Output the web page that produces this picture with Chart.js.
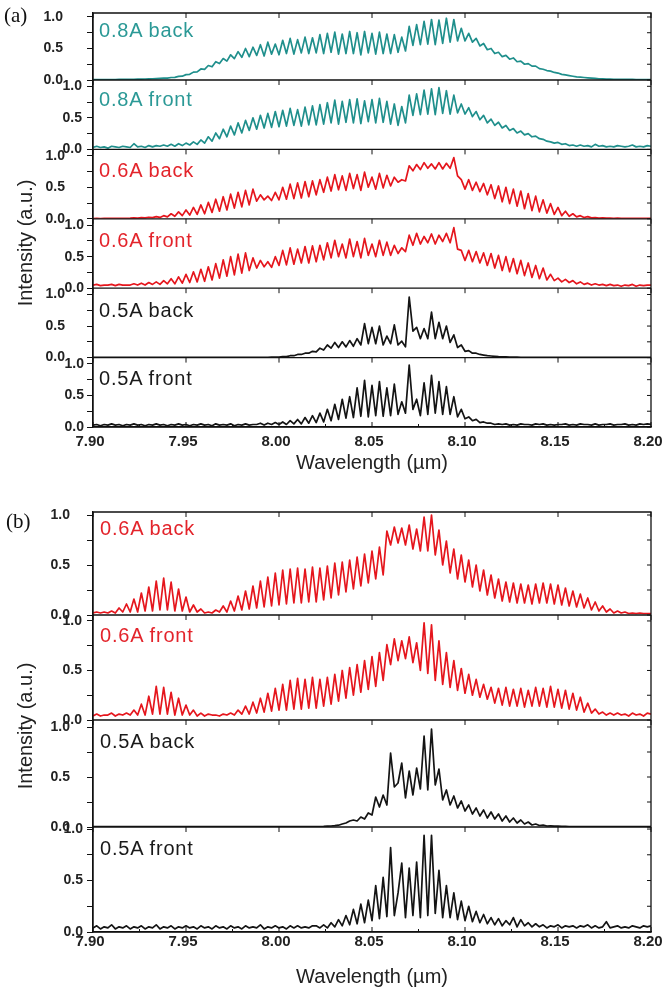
<!DOCTYPE html>
<html>
<head>
<meta charset="utf-8">
<script src="https://cdn.jsdelivr.net/npm/chart.js@4.4.1/dist/chart.umd.min.js"></script>
<style>
  body { margin: 0; background: #fff; }
  #wrap { position: relative; width: 662px; height: 995px; overflow: hidden; background: #fff; }
  canvas { position: absolute; left: 0; }
  .lbl { position: absolute; font: 20px "Liberation Sans", Arial, sans-serif; line-height: 20px; letter-spacing: 0.8px; white-space: nowrap; }
  .panel { position: absolute; font: 21px "Liberation Serif", "Times New Roman", serif; line-height: 21px; color: #111; }
  .ytitle { position: absolute; font: 20px "Liberation Sans", Arial, sans-serif; color: #222; white-space: nowrap;
            transform: translate(-50%, -50%) rotate(-90deg); }
  .teal { color: #2b9996; }
  .red { color: #e3242b; }
  .blk { color: #1a1a1a; }
</style>
</head>
<body>
<div id="wrap">
  <canvas id="chartA" width="662" height="480" style="top:0"></canvas>
  <canvas id="chartB" width="662" height="515" style="top:480px"></canvas>

  <div class="panel" style="left:4px;top:5px">(a)</div>
  <div class="panel" style="left:6px;top:511px">(b)</div>
  <div class="ytitle" style="left:25px;top:243px">Intensity (a.u.)</div>
  <div class="ytitle" style="left:25px;top:726px">Intensity (a.u.)</div>

  <div class="lbl teal" style="left:99px;top:20px">0.8A back</div>
  <div class="lbl teal" style="left:99px;top:89px">0.8A front</div>
  <div class="lbl red" style="left:99px;top:160px">0.6A back</div>
  <div class="lbl red" style="left:99px;top:230px">0.6A front</div>
  <div class="lbl blk" style="left:99px;top:300px">0.5A back</div>
  <div class="lbl blk" style="left:99px;top:368px">0.5A front</div>

  <div class="lbl red" style="left:100px;top:518px">0.6A back</div>
  <div class="lbl red" style="left:100px;top:625px">0.6A front</div>
  <div class="lbl blk" style="left:100px;top:731px">0.5A back</div>
  <div class="lbl blk" style="left:100px;top:838px">0.5A front</div>
</div>

<script>
// wavelength grid (µm): 7.900 ... 8.200, one sample every 0.002
const WL_START = 7.90;
const WL_STEP = 0.002;
const WL_COUNT = 151;
const wavelength = Array.from({ length: WL_COUNT }, (_, i) => Math.round((WL_START + i * WL_STEP) * 1000) / 1000);

const xTickValues = [7.90, 7.95, 8.00, 8.05, 8.10, 8.15, 8.20];
const yTickValues = [0, 0.25, 0.5, 0.75, 1.0];
const yLabelled = [0, 0.5, 1.0];

// ---- panel (a) ----
const a08back = [
  0.005,0.006,0.006,0.007,0.007,0.008,0.008,0.009,0.009,0.010,
  0.011,0.012,0.013,0.014,0.016,0.018,0.020,0.023,0.026,0.030,
  0.030,0.040,0.042,0.058,0.060,0.085,0.090,0.125,0.130,0.175,
  0.17,0.23,0.21,0.29,0.26,0.34,0.30,0.40,0.34,0.45,
  0.36,0.50,0.37,0.52,0.39,0.56,0.38,0.60,0.41,0.57,
  0.40,0.63,0.42,0.66,0.41,0.64,0.43,0.68,0.42,0.67,
  0.43,0.72,0.42,0.74,0.44,0.76,0.41,0.73,0.42,0.77,
  0.42,0.75,0.40,0.77,0.43,0.74,0.41,0.76,0.42,0.73,
  0.42,0.72,0.44,0.68,0.46,0.85,0.55,0.88,0.56,0.93,
  0.57,0.96,0.56,0.95,0.58,0.98,0.60,0.96,0.62,0.82,
  0.62,0.74,0.60,0.66,0.54,0.58,0.48,0.50,0.42,0.44,
  0.37,0.39,0.33,0.35,0.29,0.30,0.25,0.26,0.22,0.22,
  0.18,0.17,0.15,0.14,0.12,0.11,0.09,0.08,0.07,0.06,
  0.05,0.045,0.04,0.035,0.03,0.025,0.02,0.018,0.015,0.013,
  0.012,0.011,0.010,0.010,0.009,0.009,0.008,0.008,0.008,0.008,
  0.008
];
const a08front = [
  0.03,0.05,0.03,0.04,0.02,0.05,0.04,0.03,0.05,0.04,
  0.03,0.09,0.04,0.05,0.03,0.06,0.04,0.06,0.05,0.07,
  0.05,0.08,0.05,0.09,0.06,0.10,0.07,0.12,0.08,0.15,
  0.10,0.20,0.13,0.26,0.17,0.32,0.20,0.37,0.23,0.42,
  0.26,0.46,0.30,0.50,0.32,0.54,0.34,0.57,0.35,0.60,
  0.36,0.62,0.37,0.65,0.38,0.63,0.37,0.67,0.39,0.69,
  0.39,0.71,0.40,0.74,0.42,0.78,0.40,0.76,0.43,0.79,
  0.42,0.80,0.41,0.77,0.44,0.79,0.42,0.81,0.43,0.76,
  0.40,0.72,0.38,0.68,0.42,0.86,0.54,0.88,0.55,0.94,
  0.56,0.96,0.55,0.98,0.57,0.93,0.56,0.86,0.58,0.72,
  0.56,0.66,0.52,0.60,0.47,0.54,0.42,0.48,0.38,0.43,
  0.34,0.38,0.30,0.33,0.26,0.29,0.23,0.25,0.20,0.21,
  0.17,0.16,0.13,0.12,0.10,0.11,0.08,0.09,0.06,0.07,
  0.05,0.07,0.05,0.06,0.04,0.08,0.05,0.06,0.04,0.05,
  0.04,0.06,0.05,0.04,0.05,0.07,0.04,0.05,0.04,0.06,
  0.05
];
const a06back = [
  0.005,0.006,0.005,0.006,0.006,0.007,0.007,0.008,0.008,0.009,
  0.010,0.014,0.012,0.018,0.015,0.025,0.018,0.035,0.022,0.05,
  0.03,0.08,0.04,0.11,0.05,0.14,0.06,0.18,0.07,0.22,
  0.08,0.26,0.10,0.31,0.12,0.35,0.14,0.39,0.17,0.42,
  0.19,0.45,0.22,0.47,0.28,0.38,0.30,0.36,0.29,0.42,
  0.30,0.50,0.31,0.55,0.32,0.57,0.33,0.59,0.35,0.60,
  0.38,0.62,0.42,0.66,0.44,0.70,0.46,0.68,0.45,0.72,
  0.48,0.70,0.45,0.74,0.50,0.66,0.47,0.72,0.49,0.69,
  0.52,0.66,0.58,0.62,0.60,0.84,0.76,0.86,0.78,0.89,
  0.80,0.87,0.79,0.89,0.79,0.88,0.80,0.97,0.68,0.62,
  0.47,0.62,0.45,0.58,0.43,0.56,0.38,0.54,0.32,0.52,
  0.27,0.50,0.24,0.47,0.20,0.44,0.16,0.40,0.13,0.36,
  0.11,0.30,0.09,0.24,0.07,0.18,0.05,0.12,0.04,0.08,
  0.03,0.05,0.02,0.035,0.015,0.02,0.012,0.015,0.010,0.010,
  0.009,0.010,0.008,0.009,0.008,0.009,0.008,0.008,0.008,0.008,
  0.008
];
const a06front = [
  0.05,0.06,0.04,0.05,0.05,0.06,0.04,0.06,0.05,0.05,
  0.05,0.07,0.05,0.08,0.05,0.09,0.06,0.10,0.06,0.12,
  0.07,0.15,0.07,0.18,0.08,0.22,0.09,0.26,0.10,0.30,
  0.11,0.34,0.13,0.39,0.16,0.45,0.19,0.50,0.21,0.54,
  0.24,0.56,0.28,0.48,0.32,0.44,0.34,0.42,0.33,0.50,
  0.36,0.60,0.37,0.64,0.38,0.62,0.40,0.66,0.40,0.67,
  0.42,0.68,0.45,0.72,0.48,0.76,0.50,0.70,0.48,0.78,
  0.50,0.74,0.48,0.79,0.52,0.70,0.50,0.76,0.52,0.73,
  0.52,0.68,0.55,0.64,0.58,0.84,0.68,0.87,0.70,0.82,
  0.72,0.86,0.70,0.84,0.74,0.87,0.72,0.96,0.62,0.60,
  0.44,0.60,0.42,0.58,0.40,0.56,0.36,0.55,0.32,0.52,
  0.28,0.50,0.26,0.47,0.23,0.44,0.20,0.40,0.17,0.36,
  0.15,0.32,0.13,0.22,0.12,0.16,0.10,0.14,0.09,0.12,
  0.07,0.10,0.06,0.08,0.05,0.07,0.05,0.06,0.04,0.06,
  0.04,0.05,0.03,0.05,0.04,0.06,0.03,0.05,0.04,0.05,
  0.05
];
const a05back = [
  0.003,0.003,0.003,0.003,0.003,0.003,0.003,0.003,0.003,0.003,
  0.003,0.003,0.003,0.003,0.003,0.003,0.003,0.003,0.003,0.003,
  0.003,0.003,0.003,0.003,0.003,0.003,0.003,0.003,0.003,0.003,
  0.003,0.003,0.003,0.003,0.003,0.003,0.003,0.003,0.003,0.003,
  0.003,0.003,0.003,0.004,0.004,0.004,0.005,0.005,0.006,0.007,
  0.008,0.015,0.015,0.03,0.03,0.05,0.05,0.07,0.07,0.10,
  0.09,0.15,0.12,0.20,0.15,0.24,0.16,0.25,0.17,0.27,
  0.18,0.30,0.20,0.54,0.22,0.48,0.22,0.50,0.20,0.34,
  0.22,0.52,0.20,0.26,0.17,0.96,0.42,0.48,0.30,0.46,
  0.30,0.72,0.30,0.56,0.30,0.50,0.24,0.36,0.16,0.20,
  0.10,0.11,0.07,0.07,0.05,0.04,0.03,0.025,0.02,0.015,
  0.012,0.010,0.008,0.007,0.006,0.005,0.005,0.004,0.004,0.004,
  0.003,0.003,0.003,0.003,0.003,0.003,0.003,0.003,0.003,0.003,
  0.003,0.003,0.003,0.003,0.003,0.003,0.003,0.003,0.003,0.003,
  0.003,0.003,0.003,0.003,0.003,0.003,0.003,0.003,0.003,0.003,
  0.003
];
const a05front = [
  0.03,0.04,0.02,0.04,0.03,0.05,0.03,0.04,0.02,0.04,
  0.03,0.05,0.03,0.04,0.02,0.04,0.03,0.05,0.03,0.04,
  0.02,0.04,0.03,0.05,0.03,0.04,0.02,0.04,0.03,0.05,
  0.03,0.04,0.02,0.05,0.03,0.04,0.03,0.05,0.02,0.04,
  0.03,0.05,0.03,0.04,0.04,0.06,0.03,0.06,0.04,0.07,
  0.04,0.08,0.04,0.10,0.05,0.12,0.05,0.15,0.06,0.18,
  0.07,0.22,0.08,0.28,0.10,0.36,0.12,0.44,0.14,0.48,
  0.15,0.62,0.17,0.74,0.16,0.66,0.18,0.72,0.17,0.62,
  0.18,0.68,0.20,0.40,0.22,0.98,0.28,0.44,0.18,0.70,
  0.20,0.82,0.22,0.72,0.20,0.64,0.20,0.48,0.16,0.28,
  0.13,0.16,0.10,0.12,0.07,0.08,0.06,0.06,0.04,0.05,
  0.04,0.05,0.03,0.04,0.03,0.05,0.04,0.04,0.03,0.05,
  0.04,0.05,0.03,0.04,0.03,0.04,0.04,0.05,0.03,0.04,
  0.03,0.05,0.04,0.04,0.03,0.05,0.03,0.04,0.04,0.05,
  0.03,0.04,0.04,0.05,0.03,0.04,0.03,0.05,0.04,0.05,
  0.04
];

// ---- panel (b) ----
const b06back = [
  0.02,0.03,0.02,0.03,0.02,0.04,0.02,0.07,0.03,0.11,
  0.03,0.16,0.03,0.22,0.04,0.28,0.04,0.34,0.05,0.37,
  0.05,0.33,0.04,0.26,0.04,0.18,0.03,0.10,0.03,0.06,
  0.02,0.03,0.02,0.05,0.03,0.09,0.03,0.14,0.04,0.19,
  0.05,0.24,0.06,0.29,0.07,0.34,0.08,0.38,0.09,0.42,
  0.10,0.45,0.11,0.46,0.12,0.47,0.12,0.46,0.13,0.48,
  0.13,0.47,0.15,0.49,0.17,0.52,0.20,0.53,0.23,0.55,
  0.26,0.58,0.29,0.61,0.32,0.64,0.36,0.68,0.40,0.84,
  0.70,0.88,0.72,0.87,0.70,0.90,0.66,0.86,0.64,0.98,
  0.64,1.00,0.60,0.85,0.50,0.74,0.42,0.66,0.36,0.60,
  0.33,0.55,0.28,0.50,0.24,0.45,0.20,0.40,0.17,0.36,
  0.14,0.33,0.13,0.32,0.12,0.31,0.12,0.30,0.11,0.31,
  0.12,0.32,0.12,0.31,0.11,0.30,0.10,0.27,0.09,0.24,
  0.08,0.21,0.07,0.17,0.05,0.13,0.04,0.09,0.03,0.06,
  0.02,0.04,0.02,0.03,0.015,0.02,0.015,0.02,0.015,0.015,
  0.015
];
const b06front = [
  0.04,0.06,0.04,0.05,0.05,0.07,0.04,0.06,0.05,0.07,
  0.05,0.10,0.05,0.16,0.05,0.24,0.06,0.34,0.06,0.33,
  0.06,0.28,0.05,0.22,0.05,0.15,0.05,0.10,0.04,0.07,
  0.04,0.06,0.05,0.05,0.04,0.06,0.05,0.07,0.05,0.10,
  0.06,0.14,0.06,0.18,0.07,0.22,0.08,0.27,0.09,0.32,
  0.10,0.36,0.10,0.40,0.11,0.42,0.11,0.41,0.12,0.43,
  0.12,0.41,0.14,0.43,0.16,0.46,0.19,0.50,0.22,0.53,
  0.25,0.56,0.28,0.60,0.31,0.64,0.34,0.68,0.40,0.76,
  0.56,0.82,0.60,0.80,0.62,0.84,0.58,0.78,0.50,0.98,
  0.47,0.96,0.40,0.80,0.36,0.68,0.33,0.60,0.30,0.52,
  0.27,0.46,0.25,0.41,0.23,0.36,0.21,0.33,0.17,0.32,
  0.15,0.33,0.14,0.31,0.14,0.32,0.13,0.30,0.14,0.33,
  0.14,0.32,0.13,0.34,0.13,0.31,0.12,0.30,0.11,0.27,
  0.10,0.23,0.08,0.17,0.07,0.11,0.06,0.08,0.05,0.07,
  0.05,0.07,0.05,0.06,0.04,0.07,0.05,0.06,0.04,0.07,
  0.06
];
const b05back = [
  0.003,0.003,0.003,0.003,0.003,0.003,0.003,0.003,0.003,0.003,
  0.003,0.003,0.003,0.003,0.003,0.003,0.003,0.003,0.003,0.003,
  0.003,0.003,0.003,0.003,0.003,0.003,0.003,0.003,0.003,0.003,
  0.003,0.003,0.003,0.003,0.003,0.003,0.003,0.003,0.003,0.003,
  0.003,0.003,0.003,0.003,0.003,0.003,0.003,0.003,0.003,0.003,
  0.003,0.003,0.003,0.003,0.003,0.003,0.003,0.003,0.003,0.003,
  0.004,0.005,0.006,0.008,0.010,0.013,0.018,0.03,0.04,0.06,
  0.07,0.06,0.10,0.08,0.14,0.12,0.30,0.20,0.32,0.22,
  0.74,0.40,0.44,0.64,0.29,0.56,0.32,0.59,0.38,0.91,
  0.37,0.98,0.42,0.58,0.27,0.37,0.22,0.31,0.19,0.26,
  0.16,0.22,0.13,0.19,0.11,0.17,0.09,0.15,0.08,0.13,
  0.06,0.11,0.05,0.09,0.04,0.07,0.03,0.05,0.02,0.03,
  0.015,0.02,0.010,0.012,0.008,0.008,0.006,0.006,0.005,0.005,
  0.004,0.004,0.004,0.004,0.004,0.004,0.004,0.004,0.004,0.004,
  0.004,0.004,0.004,0.004,0.004,0.004,0.004,0.004,0.004,0.004,
  0.004
];
const b05front = [
  0.04,0.06,0.03,0.05,0.04,0.07,0.03,0.05,0.04,0.06,
  0.03,0.05,0.04,0.06,0.03,0.05,0.04,0.07,0.03,0.05,
  0.04,0.06,0.03,0.05,0.04,0.06,0.04,0.05,0.03,0.06,
  0.04,0.05,0.03,0.06,0.04,0.05,0.03,0.06,0.04,0.05,
  0.03,0.06,0.04,0.05,0.04,0.07,0.03,0.05,0.04,0.06,
  0.04,0.05,0.03,0.06,0.04,0.06,0.04,0.05,0.04,0.06,
  0.06,0.04,0.07,0.04,0.09,0.05,0.12,0.06,0.16,0.07,
  0.22,0.08,0.27,0.09,0.31,0.11,0.45,0.13,0.53,0.15,
  0.82,0.16,0.38,0.67,0.14,0.62,0.16,0.68,0.14,0.94,
  0.16,0.94,0.18,0.60,0.14,0.45,0.14,0.38,0.12,0.30,
  0.11,0.25,0.10,0.20,0.09,0.17,0.08,0.14,0.07,0.13,
  0.06,0.11,0.07,0.14,0.05,0.12,0.06,0.09,0.05,0.08,
  0.05,0.07,0.04,0.06,0.05,0.07,0.04,0.06,0.05,0.06,
  0.04,0.06,0.05,0.07,0.04,0.06,0.04,0.05,0.10,0.04,
  0.05,0.06,0.04,0.05,0.04,0.06,0.05,0.04,0.06,0.05,
  0.06
];

const TEAL = '#1f8f8c';
const RED = '#e5161d';
const BLACK = '#141414';
const INK = '#111';

Chart.defaults.font.family = '"Liberation Sans", Arial, sans-serif';
Chart.defaults.color = '#222';

// frame, subplot separators and the inward tick marks on top / right / bottom
const frameTicks = {
  id: 'frameTicks',
  afterDatasetsDraw(chart) {
    const { ctx, chartArea: a, scales } = chart;
    const x = scales.x;
    const ys = Object.values(scales).filter(s => s.axis === 'y');
    ctx.save();
    ctx.strokeStyle = INK;
    ctx.lineWidth = 1.3;
    ctx.beginPath();
    ctx.rect(a.left, a.top, a.right - a.left, a.bottom - a.top);
    ys.forEach(s => { ctx.moveTo(a.left, s.bottom); ctx.lineTo(a.right, s.bottom); });
    ctx.stroke();

    ctx.lineWidth = 1;
    ctx.beginPath();
    ys.forEach(s => {
      x.ticks.forEach(t => {
        const px = x.getPixelForValue(t.value);
        ctx.moveTo(px, s.top); ctx.lineTo(px, s.top + 5);
      });
      s.ticks.forEach(t => {
        const py = s.getPixelForValue(t.value);
        ctx.moveTo(a.right, py); ctx.lineTo(a.right - 4, py);
      });
    });
    for (let k = 0; k <= 12; k++) {
      const v = x.min + k * 0.025;
      const px = x.getPixelForValue(v);
      ctx.moveTo(px, a.bottom); ctx.lineTo(px, a.bottom - (k % 2 ? 3 : 5));
    }
    ctx.stroke();
    ctx.restore();
  }
};

function yScale(order, weight, max, pad) {
  return {
    type: 'linear',
    position: 'left',
    stack: 'spectra',
    stackWeight: weight,
    weight: order,
    bounds: 'data',
    min: 0,
    max: max,
    afterBuildTicks: s => { s.ticks = yTickValues.map(v => ({ value: v })); },
    afterFit: s => { s.width = 93; s.paddingTop = 0; s.paddingBottom = 0; },
    ticks: {
      autoSkip: false,
      padding: pad,
      color: '#222',
      font: { size: 14, weight: 'bold', lineHeight: 1 },
      callback: v => yLabelled.includes(v) ? v.toFixed(1) : ''
    },
    grid: { drawOnChartArea: false, drawTicks: true, tickLength: 6, color: INK, tickWidth: 1 },
    border: { display: true, color: INK, width: 1.3 }
  };
}

function xScale(height, labelPad, titlePad) {
  return {
    type: 'linear',
    position: 'bottom',
    min: 7.90,
    max: 8.20,
    bounds: 'data',
    afterBuildTicks: s => { s.ticks = xTickValues.map(v => ({ value: v })); },
    afterFit: s => { s.height = height; s.paddingLeft = 0; s.paddingRight = 0; },
    ticks: {
      autoSkip: false,
      maxRotation: 0,
      padding: labelPad,
      labelOffset: -3,
      color: '#222',
      font: { size: 15, weight: 'bold', lineHeight: 1 },
      callback: v => v.toFixed(2)
    },
    grid: { display: false },
    border: { display: true, color: INK, width: 1.3 },
    title: {
      display: true,
      text: 'Wavelength (\u00b5m)',
      color: '#222',
      font: { size: 20, lineHeight: 1.2 },
      padding: { top: 0, bottom: titlePad }
    }
  };
}

function trace(values, color, axis) {
  return {
    data: values.map((v, i) => ({ x: wavelength[i], y: v })),
    yAxisID: axis,
    borderColor: color,
    borderWidth: 1.7,
    borderJoinStyle: 'round',
    pointRadius: 0,
    fill: false,
    tension: 0
  };
}

const common = {
  responsive: false,
  animation: false,
  events: [],
  plugins: { legend: { display: false }, tooltip: { enabled: false } }
};

new Chart(document.getElementById('chartA'), {
  type: 'line',
  data: {
    datasets: [
      trace(a08back, TEAL, 'y1'),
      trace(a08front, TEAL, 'y2'),
      trace(a06back, RED, 'y3'),
      trace(a06front, RED, 'y4'),
      trace(a05back, BLACK, 'y5'),
      trace(a05front, BLACK, 'y6')
    ]
  },
  options: {
    ...common,
    layout: { padding: { left: 0, right: 11, top: 13, bottom: 0 } },
    scales: {
      x: xScale(53, -1, 5),
      y1: yScale(6, 67, 1.063, 24),
      y2: yScale(5, 69.4, 1.10, 5),
      y3: yScale(4, 69.4, 1.10, 22),
      y4: yScale(3, 69.4, 1.10, 3),
      y5: yScale(2, 69.4, 1.10, 22),
      y6: yScale(1, 69.4, 1.10, 3)
    }
  },
  plugins: [frameTicks]
});

new Chart(document.getElementById('chartB'), {
  type: 'line',
  data: {
    datasets: [
      trace(b06back, RED, 'y1'),
      trace(b06front, RED, 'y2'),
      trace(b05back, BLACK, 'y3'),
      trace(b05front, BLACK, 'y4')
    ]
  },
  options: {
    ...common,
    layout: { padding: { left: 0, right: 11, top: 32, bottom: 0 } },
    scales: {
      x: xScale(63, -6, 6),
      y1: yScale(4, 103, 1.03, 17),
      y2: yScale(3, 105, 1.06, 5),
      y3: yScale(2, 107, 1.07, 17),
      y4: yScale(1, 105, 1.02, 4)
    }
  },
  plugins: [frameTicks]
});
</script>
</body>
</html>
